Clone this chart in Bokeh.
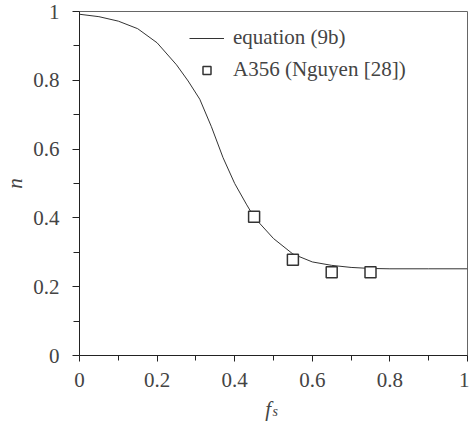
from bokeh.plotting import figure
from bokeh.models import (Range1d, Legend, LegendItem, FixedTicker, LinearAxis,
                          NumeralTickFormatter)
from bokeh.embed import file_html
from bokeh.resources import INLINE

# curve: equation (9b)
curve_fs = [0.0, 0.05, 0.10, 0.15, 0.20, 0.25, 0.28, 0.31, 0.34, 0.37, 0.40, 0.43,
            0.45, 0.50, 0.55, 0.60, 0.65, 0.70, 0.75, 0.80, 0.90, 1.0]
curve_n = [0.992, 0.985, 0.972, 0.950, 0.909, 0.845, 0.798, 0.745, 0.665, 0.575, 0.500, 0.440,
           0.402, 0.340, 0.295, 0.272, 0.262, 0.256, 0.253, 0.252, 0.252, 0.252]

# measured points: A356 (Nguyen [28])
exp_fs = [0.45, 0.55, 0.65, 0.75]
exp_n = [0.403, 0.278, 0.242, 0.242]

x_ticks = [0, 0.2, 0.4, 0.6, 0.8, 1.0]
y_ticks = [0, 0.2, 0.4, 0.6, 0.8, 1.0]
minor = [0.1, 0.3, 0.5, 0.7, 0.9]

FONT = "Liberation Serif"
FS = "21px"
NB = "\u00a0"

p = figure(width=469, height=423, output_backend="svg", toolbar_location=None,
           x_range=Range1d(0, 1), y_range=Range1d(0, 1),
           min_border_left=73, min_border_right=2, min_border_top=11, min_border_bottom=68)

p.grid.visible = False
p.outline_line_color = "#666666"
p.outline_line_width = 1
p.background_fill_color = "white"
p.border_fill_color = "white"

for ax in (p.xaxis, p.yaxis):
    ax.axis_line_color = "#222222"
    ax.axis_line_width = 1
    ax.major_tick_line_color = "#222222"
    ax.minor_tick_line_color = "#222222"
    ax.major_tick_in = 0
    ax.minor_tick_in = 0
    ax.major_label_text_font = FONT
    ax.major_label_text_font_size = FS
    ax.axis_label_text_font = FONT
    ax.axis_label_text_font_style = "italic"
    ax.axis_label_text_font_size = FS
    ax.formatter = NumeralTickFormatter(format="0.[0]")

p.xaxis.ticker = FixedTicker(ticks=x_ticks, minor_ticks=minor)
p.yaxis.ticker = FixedTicker(ticks=y_ticks, minor_ticks=minor)
p.xaxis.major_tick_out = 6
p.xaxis.minor_tick_out = 5
p.yaxis.major_tick_out = 7
p.yaxis.minor_tick_out = 6
p.xaxis.major_label_standoff = 11
p.yaxis.major_label_standoff = 13

p.yaxis.axis_label = "n"
p.yaxis.axis_label_standoff = 3
p.xaxis.axis_label = "f" + NB + NB
p.xaxis.axis_label_standoff = 7

# subscript "s" of the x-axis title
sub_axis = LinearAxis(ticker=FixedTicker(ticks=[]), axis_label=NB + "s",
                      axis_line_alpha=0, major_tick_line_alpha=0, minor_tick_line_alpha=0,
                      axis_label_text_font=FONT, axis_label_text_font_style="italic",
                      axis_label_text_font_size="14px",
                      axis_label_standoff=-20)
p.add_layout(sub_axis, "below")

line_r = p.line(curve_fs, curve_n, line_color="#333333", line_width=1)
pts_r = p.scatter(exp_fs, exp_n, marker="square", size=11, fill_color="white",
                  line_color="#333333", line_width=1.5)

common = dict(orientation="vertical", border_line_alpha=0, background_fill_alpha=0,
              glyph_width=35, glyph_height=20, label_standoff=9, padding=0, margin=0,
              label_text_font=FONT, label_text_font_size=FS)
legend_line = Legend(items=[LegendItem(label="equation (9b)", renderers=[line_r])],
                     location=(110, 305), **common)
legend_pts = Legend(items=[LegendItem(label="A356 (Nguyen [28])", renderers=[pts_r])],
                    location=(110, 273), **common)
p.add_layout(legend_line)
p.add_layout(legend_pts)

open("out.html", "w").write(file_html(p, INLINE))
